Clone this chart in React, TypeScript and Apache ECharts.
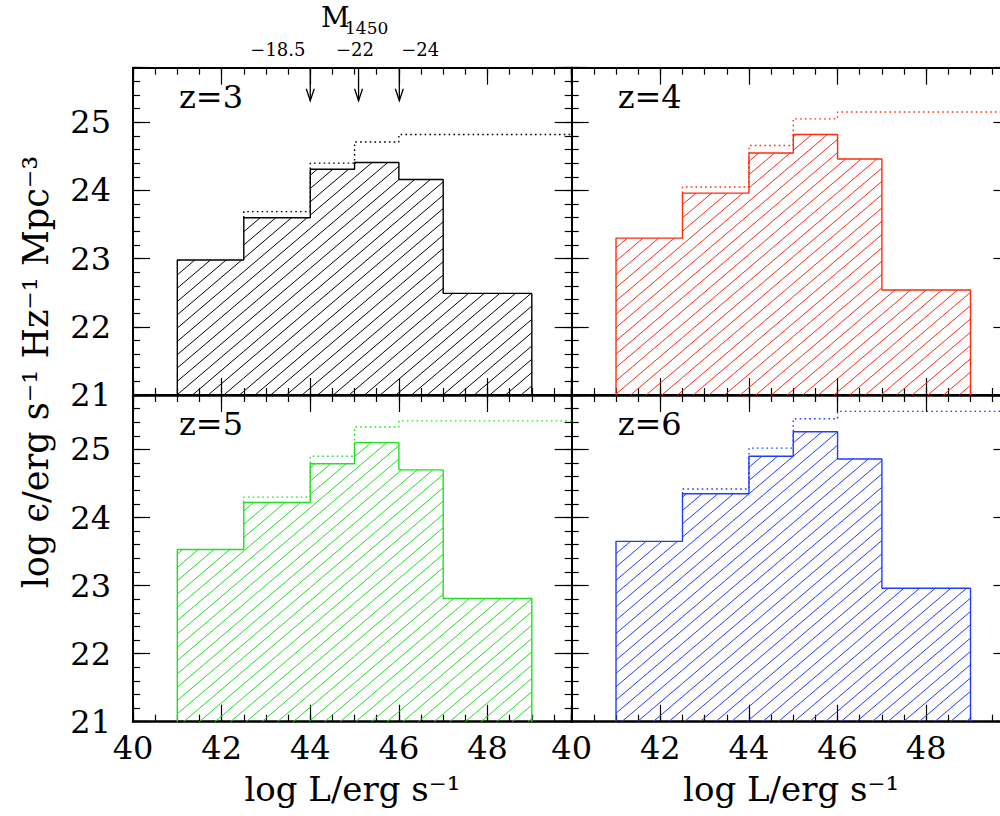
import React, { useEffect, useRef } from 'react';
import * as echarts from 'echarts';

// ---------------- data ----------------
const binEdges = [41, 42.5, 44, 45, 46, 47, 49];
const dottedEdges = [42.5, 44, 45, 46, 49.9];
const panelLabels = ['z=3', 'z=4', 'z=5', 'z=6'];
const panelColors = ['#000000', '#ff2a10', '#1ee01e', '#1f3cff'];
const solidZ3 = [22.98, 23.6, 24.31, 24.41, 24.16, 22.49];
const solidZ4 = [23.3, 23.96, 24.55, 24.82, 24.46, 22.54];
const solidZ5 = [23.53, 24.22, 24.79, 25.1, 24.7, 22.81];
const solidZ6 = [23.65, 24.35, 24.9, 25.26, 24.86, 22.96];
const totalZ3 = [23.69, 24.4, 24.71, 24.82];
const totalZ4 = [24.05, 24.66, 25.05, 25.15];
const totalZ5 = [24.3, 24.9, 25.33, 25.42];
const totalZ6 = [24.42, 25.02, 25.45, 25.56];
const arrowX = [44.0, 45.09, 46.01];
const magLabels = ['\u221218.5', '\u221222', '\u221224'];
const magLabelX = [43.27, 45.01, 46.48];
const magTitle = 'M';
const magTitleSub = '1450';
const xTitle = 'log L/erg s\u207B\u00B9';
const yTitle = 'log \u03F5/erg s\u207B\u00B9 Hz\u207B\u00B9 Mpc\u207B\u00B3';

const X_MIN = 40;
const X_MAX = 49.9;
const Y_MIN = 21;
const Y_MAX = 25.8;

const solids = [solidZ3, solidZ4, solidZ5, solidZ6];
const totals = [totalZ3, totalZ4, totalZ5, totalZ6];

// ---------------- layout / style ----------------
const FONT = '"DejaVu Serif", "Liberation Serif", serif';
const GRID_LEFTS = [133, 571.7, 133, 571.7];
const GRID_TOPS = [67.7, 67.7, 395, 395];
const GRID_W = 438.7;
const GRID_HS = [327.3, 327.3, 326.7, 326.7];
const SLOPE = 0.85;
const VS = 13.3;

function hatchRender(color: string) {
  return (params: any, api: any) => {
    const x0 = api.value(0);
    const x1 = api.value(1);
    const top = api.value(2);
    const a = api.coord([x0, top]);
    const b = api.coord([x1, Y_MIN]);
    const left = a[0];
    const right = b[0];
    const yt = a[1];
    const yb = b[1];
    const children: any[] = [];
    const cMin = yt + SLOPE * left;
    const cMax = yb + SLOPE * right;
    for (let c = Math.ceil(cMin / VS) * VS; c <= cMax; c += VS) {
      const xa = Math.max(left, (c - yb) / SLOPE);
      const xb = Math.min(right, (c - yt) / SLOPE);
      if (xb - xa > 0.3) {
        children.push({
          type: 'line',
          shape: { x1: xa, y1: c - SLOPE * xa, x2: xb, y2: c - SLOPE * xb },
          style: { stroke: color, lineWidth: 1 },
        });
      }
    }
    return { type: 'group', children };
  };
}

function solidPoints(vals: number[]) {
  const pts: number[][] = [[binEdges[0], Y_MIN]];
  for (let k = 0; k < vals.length; k++) {
    pts.push([binEdges[k], vals[k]], [binEdges[k + 1], vals[k]]);
  }
  pts.push([binEdges[binEdges.length - 1], Y_MIN]);
  return pts;
}

function dottedPoints(solid: number[], tot: number[]) {
  const pts: number[][] = [[dottedEdges[0], solid[1]]];
  for (let k = 0; k < tot.length; k++) {
    pts.push([dottedEdges[k], tot[k]], [dottedEdges[k + 1], tot[k]]);
  }
  return pts;
}

function buildOption() {
  const grid: any[] = [];
  const xAxis: any[] = [];
  const yAxis: any[] = [];
  const series: any[] = [];
  const graphic: any[] = [];

  for (let i = 0; i < 4; i++) {
    grid.push({ left: GRID_LEFTS[i], top: GRID_TOPS[i], width: GRID_W, height: GRID_HS[i], containLabel: false });
    const bottomRow = i >= 2;
    const leftCol = i % 2 === 0;
    const base = { type: 'value', min: X_MIN, max: X_MAX, gridIndex: i, splitLine: { show: false } };
    xAxis.push({
      ...base,
      position: 'bottom',
      interval: 2,
      axisLine: { show: true, onZero: false, lineStyle: { color: '#000', width: 2.5 } },
      axisTick: { show: true, inside: true, length: 17, lineStyle: { color: '#000', width: 1.2 } },
      axisLabel: {
        show: bottomRow,
        margin: 10,
        fontSize: 32,
        fontFamily: FONT,
        color: '#000',
        formatter: (v: number) => (Math.abs(v % 2) < 1e-6 && v < 49.5 ? String(v) : ''),
      },
      name: bottomRow ? xTitle : '',
      nameLocation: 'middle',
      nameGap: 50,
      nameTextStyle: { fontSize: 34, fontFamily: FONT, color: '#000' },
    });
    xAxis.push({
      ...base,
      position: 'bottom',
      interval: 0.5,
      axisLine: { show: false, onZero: false },
      axisTick: { show: true, inside: true, length: 7, lineStyle: { color: '#000', width: 1.2 } },
      axisLabel: { show: false },
    });
    xAxis.push({
      ...base,
      position: 'top',
      interval: 2,
      axisLine: { show: true, onZero: false, lineStyle: { color: '#000', width: 2 } },
      axisTick: { show: true, inside: true, length: 17, lineStyle: { color: '#000', width: 1.2 } },
      axisLabel: { show: false },
    });
    xAxis.push({
      ...base,
      position: 'top',
      interval: 0.5,
      axisLine: { show: false, onZero: false },
      axisTick: { show: true, inside: true, length: 7, lineStyle: { color: '#000', width: 1.2 } },
      axisLabel: { show: false },
    });

    const ybase = { type: 'value', min: Y_MIN, max: Y_MAX, gridIndex: i, splitLine: { show: false } };
    yAxis.push({
      ...ybase,
      position: 'left',
      interval: 1,
      axisLine: { show: true, onZero: false, lineStyle: { color: '#000', width: 2 } },
      axisTick: { show: true, inside: true, length: 17, lineStyle: { color: '#000', width: 1.2 } },
      axisLabel: {
        show: leftCol,
        margin: 22,
        fontSize: 32,
        fontFamily: FONT,
        color: '#000',
        formatter: (v: number) => (Math.abs(v - Math.round(v)) < 1e-6 ? String(Math.round(v)) : ''),
      },
    });
    yAxis.push({
      ...ybase,
      position: 'left',
      interval: 0.2,
      axisLine: { show: false, onZero: false },
      axisTick: { show: true, inside: true, length: 7, lineStyle: { color: '#000', width: 1.2 } },
      axisLabel: { show: false },
    });
    yAxis.push({
      ...ybase,
      position: 'right',
      interval: 1,
      axisLine: { show: true, onZero: false, lineStyle: { color: '#000', width: 2 } },
      axisTick: { show: true, inside: true, length: 17, lineStyle: { color: '#000', width: 1.2 } },
      axisLabel: { show: false },
    });
    yAxis.push({
      ...ybase,
      position: 'right',
      interval: 0.2,
      axisLine: { show: false, onZero: false },
      axisTick: { show: true, inside: true, length: 7, lineStyle: { color: '#000', width: 1.2 } },
      axisLabel: { show: false },
    });

    const color = panelColors[i];
    const solid = solids[i];
    series.push({
      type: 'custom',
      xAxisIndex: 4 * i,
      yAxisIndex: 4 * i,
      renderItem: hatchRender(color),
      data: solid.map((v, k) => [binEdges[k], binEdges[k + 1], v]),
      silent: true,
      z: 1,
    });
    series.push({
      type: 'line',
      xAxisIndex: 4 * i,
      yAxisIndex: 4 * i,
      data: solidPoints(solid),
      symbol: 'none',
      lineStyle: { color, width: 1.4 },
      silent: true,
      z: 3,
    });
    series.push({
      type: 'line',
      xAxisIndex: 4 * i,
      yAxisIndex: 4 * i,
      data: dottedPoints(solid, totals[i]),
      symbol: 'none',
      lineStyle: { color, width: 1.4, type: [1.6, 3.2] },
      silent: true,
      z: 3,
    });

    graphic.push({
      type: 'text',
      left: GRID_LEFTS[i] + 46,
      top: GRID_TOPS[i] + 13,
      style: { text: panelLabels[i], fontSize: 32, fontFamily: FONT, fill: '#000' },
    });
  }

  series.push({
    type: 'custom',
    xAxisIndex: 0,
    yAxisIndex: 0,
    data: arrowX.map((x) => [x, Y_MAX]),
    silent: true,
    z: 4,
    renderItem: (params: any, api: any) => {
      const p = api.coord([api.value(0), api.value(1)]);
      const tip = p[1] + 33;
      return {
        type: 'group',
        children: [
          { type: 'line', shape: { x1: p[0], y1: p[1], x2: p[0], y2: tip }, style: { stroke: '#000', lineWidth: 1.3 } },
          {
            type: 'polyline',
            shape: { points: [[p[0] - 4, tip - 12], [p[0], tip], [p[0] + 4, tip - 12]] },
            style: { stroke: '#000', lineWidth: 1.3, fill: 'none' },
          },
        ],
      };
    },
  });
  series.push({
    type: 'custom',
    xAxisIndex: 0,
    yAxisIndex: 0,
    data: magLabelX.map((x) => [x, Y_MAX]),
    silent: true,
    clip: false,
    z: 4,
    renderItem: (params: any, api: any) => {
      const p = api.coord([api.value(0), api.value(1)]);
      return {
        type: 'text',
        style: {
          text: magLabels[params.dataIndex],
          x: p[0],
          y: p[1] - 18,
          align: 'center',
          verticalAlign: 'middle',
          fontSize: 18,
          fontFamily: FONT,
          fill: '#000',
        },
      };
    },
  });

  graphic.push({
    type: 'text',
    left: 321,
    top: 3,
    style: { text: magTitle, fontSize: 28, fontFamily: FONT, fill: '#000' },
  });
  graphic.push({
    type: 'text',
    left: 345,
    top: 19,
    style: { text: magTitleSub, fontSize: 17, fontFamily: FONT, fill: '#000' },
  });
  graphic.push({
    type: 'text',
    x: 36,
    y: 372,
    rotation: Math.PI / 2,
    style: {
      text: yTitle,
      fontSize: 35,
      fontFamily: FONT,
      fill: '#000',
      align: 'center',
      verticalAlign: 'middle',
    },
  });

  return {
    animation: false,
    backgroundColor: '#ffffff',
    textStyle: { fontFamily: FONT },
    grid,
    xAxis,
    yAxis,
    series,
    graphic,
  };
}

export default function App() {
  const ref = useRef<HTMLDivElement>(null);
  useEffect(() => {
    if (!ref.current) return;
    const chart = echarts.init(ref.current, undefined, { renderer: 'svg' });
    chart.setOption(buildOption() as any);
    return () => {
      chart.dispose();
    };
  }, []);
  return (
    <div style={{ position: 'fixed', left: 0, top: 0, width: 1000, height: 816, overflow: 'hidden', background: '#fff' }}>
      <div ref={ref} style={{ position: 'absolute', left: 0, top: 0, width: 1030, height: 816 }} />
    </div>
  );
}
